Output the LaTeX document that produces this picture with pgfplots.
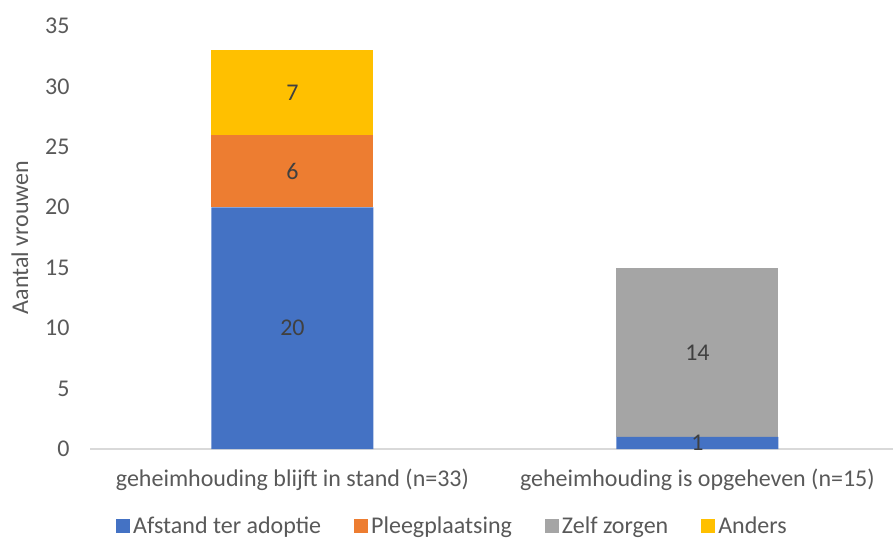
\documentclass[border=0pt]{standalone}
\usepackage{pgfplots}
\pgfplotsset{compat=1.18}
\usepackage{fontspec}
\setmainfont{Carlito}
\definecolor{cBlue}{HTML}{4472C4}
\definecolor{cOrange}{HTML}{ED7D31}
\definecolor{cGray}{HTML}{A5A5A5}
\definecolor{cYellow}{HTML}{FFC000}
\definecolor{tickgray}{HTML}{595959}
\definecolor{lblgray}{HTML}{404040}
\definecolor{axgray}{HTML}{D9D9D9}
\newcommand{\chartfont}{\fontsize{24}{29}\selectfont}
\begin{document}
\begin{tikzpicture}
\begin{axis}[
  at={(90pt,93pt)}, anchor=south west,
  scale only axis, width=803pt, height=423pt,
  xmin=-0.5, xmax=1.483, ymin=0, ymax=35,
  ybar stacked, bar width=162pt,
  xtick={0,1},
  xticklabels={geheimhouding blijft in stand (n=33), geheimhouding is opgeheven (n=15)},
  ytick={0,5,...,35},
  axis x line*=bottom, axis y line*=left,
  y axis line style={draw=none},
  x axis line style={draw=axgray, line width=1.3pt, -},
  major tick length=0pt,
  tick label style={font=\chartfont, text=tickgray},
  /pgf/number format/assume math mode=true,
  xticklabel style={yshift=-16pt},
  yticklabel style={xshift=-17pt},
  ylabel={Aantal vrouwen},
  ylabel style={at={(axis description cs:-0.0872,0.5)}, anchor=center, font=\chartfont, text=tickgray},
  legend columns=4,
  legend style={at={(0.452,-0.183)}, anchor=center, draw=none, font=\chartfont, text=tickgray,
    nodes={inner xsep=3pt, inner ysep=1pt},
    /tikz/every even column/.append style={column sep=30pt}},
  legend image code/.code={\fill[#1] (0pt,-7pt) rectangle (14pt,7pt);},
]
\addplot[fill=cBlue, draw=none] coordinates {(0,20) (1,1)};
\addplot[fill=cOrange, draw=none] coordinates {(0,6) (1,0)};
\addplot[fill=cGray, draw=none] coordinates {(0,0) (1,14)};
\addplot[fill=cYellow, draw=none] coordinates {(0,7) (1,0)};
\legend{Afstand ter adoptie, Pleegplaatsing, Zelf zorgen, Anders}
\end{axis}
\begin{axis}[
  at={(90pt,93pt)}, anchor=south west,
  scale only axis, width=803pt, height=423pt,
  xmin=-0.5, xmax=1.483, ymin=0, ymax=35,
  hide axis,
]
\addplot[only marks, mark=*, mark size=0pt, mark options={draw=none, fill=none},
  nodes near coords, point meta=explicit symbolic, nodes near coords align=center,
  every node near coord/.style={font=\chartfont, text=lblgray, anchor=center}]
  table[meta=lab] {
x y lab
0 10 20
0 23 6
0 29.5 7
1 0.5 1
1 8 14
};
\end{axis}
\pgfresetboundingbox
\useasboundingbox (0,0) rectangle (893pt,542pt);
\end{tikzpicture}
\end{document}
